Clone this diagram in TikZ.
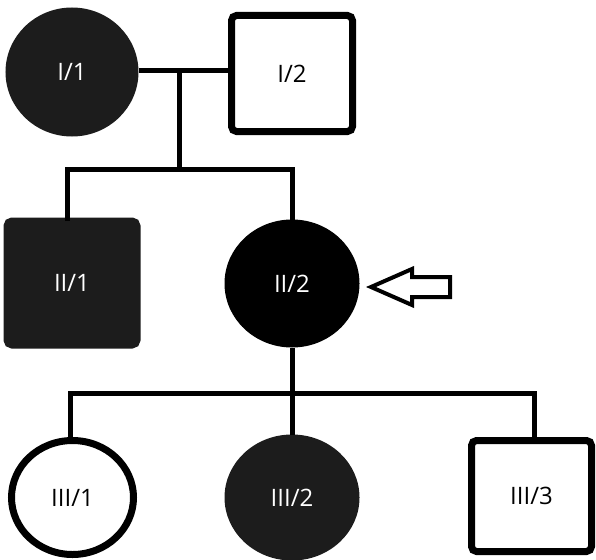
\documentclass[tikz,border=0pt]{standalone}
\usepackage{fontspec}
\setmainfont{Open Sans}
\usepackage{tikz}
\usetikzlibrary{shapes.geometric, positioning}
\definecolor{pedfill}{HTML}{1C1C1C}
\tikzset{
    female/.style={ellipse, inner sep=0pt, line width=7pt, font=\fontsize{24}{28}\selectfont},
    male/.style={rectangle, rounded corners=5pt, inner sep=0pt, line width=7pt, font=\fontsize{24}{28}\selectfont},
    affected/.style={fill=pedfill, draw=pedfill, text=white},
    healthy/.style={fill=white, draw=black, text=black},
    link/.style={line width=5pt, draw=black}
}
\begin{document}
\begin{tikzpicture}[x=1pt, y=-1pt]
                    \useasboundingbox (0,0) rectangle (596,559);
                    % Generation I
                    \node[female, affected, minimum width=126, minimum height=122] (I1) at (72,72) {I/1};
                    \node[male, healthy, minimum width=121, minimum height=116] (I2) at (292,73.5) {I/2};
                    % Generation II
                    \node[male, affected, minimum width=130, minimum height=124] (II1) at (72,283) {II/1};
                    \node[female, affected, fill=black, draw=black, minimum width=128, minimum height=121] (II2) at (292,283.5) {II/2};
                    % Generation III
                    \node[female, healthy, minimum width=122, minimum height=114] (III1) at (72.5,497.5) {III/1};
                    \node[female, affected, minimum width=128, minimum height=119] (III2) at (292,497.5) {III/2};
                    \node[male, healthy, minimum width=120, minimum height=111] (III3) at (531.5,496) {III/3};
                    % Mating and sibship lines
                    \coordinate (mate) at (179,71);
                    \coordinate (sibI) at (179,169);
                    \coordinate (sibII) at (292,393);
                    \draw[link] (I1.east |- mate) -- (I2.west |- mate);
                    \draw[link] (mate) -- (sibI);
                    \draw[link] (67,221) |- (sibI) -| (II2.north);
                    \draw[link] (II2.south) -- (sibII);
                    \draw[link] (70,437) |- (sibII) -| (534,437);
                    \draw[link] (sibII) -- (III2.north);
                    % Proband arrow
                    \draw[line width=4pt, line join=miter] (371,287) -- (412,269) -- (412,277) -- (450,277)
                        -- (450,297) -- (412,297) -- (412,305) -- cycle;
                \end{tikzpicture}
\end{document}
